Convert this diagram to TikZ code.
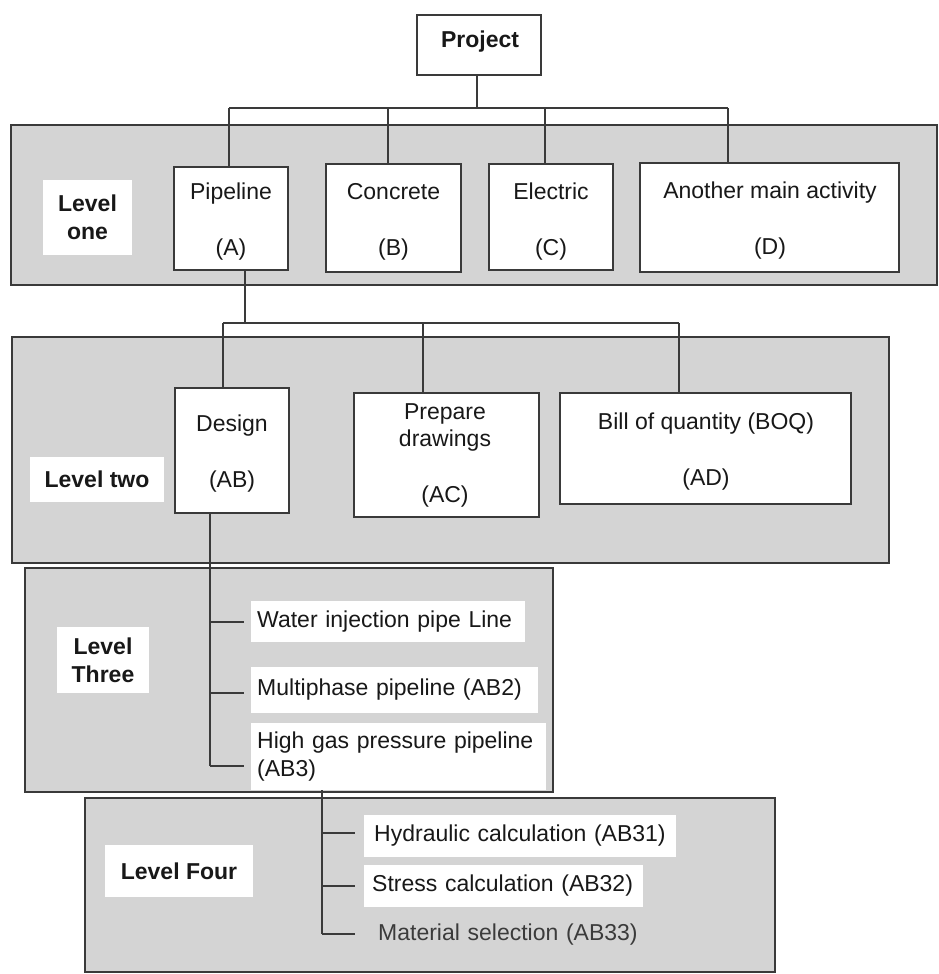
\documentclass[tikz,border=0pt]{standalone}
\usepackage{fontspec}
\setmainfont{Liberation Sans}
\definecolor{bandc}{RGB}{212,212,212}
\definecolor{linec}{RGB}{58,58,58}
\definecolor{textc}{RGB}{24,24,24}
\newcommand\diagfont{\fontsize{23}{28}\selectfont}
\begin{document}
\begin{tikzpicture}[x=1pt,y=-1pt,
  band/.style={draw=linec, line width=2pt, fill=bandc, inner sep=0pt},
  wbs/.style={draw=linec, line width=2.4pt, fill=white, inner sep=0pt},
  txt/.style={font=\diagfont, text=textc, inner sep=0pt, text height=16.5pt, text depth=0pt},
  lvl/.style={fill=white, inner sep=0pt, font=\diagfont\bfseries, text=textc, align=center},
  item/.style={fill=white, inner ysep=0pt, font=\diagfont, text=textc, align=left, anchor=west},
  conn/.style={draw=linec, line width=2pt},
  twig/.style={conn, shorten >=#1}
]
\useasboundingbox (0,0) rectangle (938,974);

% level bands
\node[band, minimum width=926, minimum height=160] (band1) at (474,205) {};
\node[band, minimum width=877, minimum height=226] (band2) at (450.5,450) {};
\node[band, minimum width=528, minimum height=224] (band3) at (289,680) {};
\node[band, minimum width=690, minimum height=174] (band4) at (430,885) {};

% level captions
\node[lvl, minimum width=89, minimum height=75] (lab1) at (87.5,217.5) {Level\\one};
\node[lvl, minimum width=134, minimum height=45] (lab2) at (97,479.5) {Level two};
\node[lvl, minimum width=92, minimum height=66] (lab3) at (103,660) {Level\\Three};
\node[lvl, minimum width=148, minimum height=52] (lab4) at (179,871) {Level Four};

% top node
\node[wbs, minimum width=124, minimum height=60] (P) at (479,45) {};
\node[txt, font=\diagfont\bfseries] (Pt) at (480,39) {Project};

% level one
\node[wbs, minimum width=114, minimum height=103] (A) at (231,218.5) {};
\node[wbs, minimum width=135, minimum height=108] (B) at (393.5,218) {};
\node[wbs, minimum width=124, minimum height=106] (C) at (551,217) {};
\node[wbs, minimum width=259, minimum height=109] (Dm) at (769.5,217.5) {};
\node[txt] (At) at (231,191) {Pipeline};
\node[txt] (Ac) at (231,247) {(A)};
\node[txt] (Bt) at (393.5,191) {Concrete};
\node[txt] (Bc) at (393.5,247) {(B)};
\node[txt] (Ct) at (551,191) {Electric};
\node[txt] (Cc) at (551,247) {(C)};
\node[txt] (Dt) at (770,190) {Another main activity};
\node[txt] (Dc) at (770,246) {(D)};

% level two
\node[wbs, minimum width=114, minimum height=125] (AB) at (232,450.5) {};
\node[wbs, minimum width=185, minimum height=124] (AC) at (446.5,455) {};
\node[wbs, minimum width=291, minimum height=111] (AD) at (705.5,448.5) {};
\node[txt] (ABt) at (232,423) {Design};
\node[txt] (ABc) at (232,479) {(AB)};
\node[txt] (ACt1) at (445,411) {Prepare};
\node[txt] (ACt2) at (445,438) {drawings};
\node[txt] (ACc) at (445,494) {(AC)};
\node[txt] (ADt) at (706,421) {Bill of quantity (BOQ)};
\node[txt] (ADc) at (706,477) {(AD)};

% level three
\node[item, text width=262, inner xsep=6, minimum height=41] (AB1) at (251,621.5) {Water injection pipe Line};
\node[item, text width=275, inner xsep=6, minimum height=46] (AB2) at (251,690) {Multiphase pipeline (AB2)};
\node[item, text width=283, inner xsep=6, minimum height=67] (AB3) at (251,756.5) {High gas pressure pipeline\\(AB3)};

% level four
\node[item, text width=292, inner xsep=10, minimum height=42] (AB31) at (364,836) {Hydraulic calculation (AB31)};
\node[item, text width=263, inner xsep=8, minimum height=42] (AB32) at (364,886) {Stress calculation (AB32)};
\node[item, fill=none, text width=260, inner xsep=14, minimum height=42, text=textc!85] (AB33) at (364,935) {Material selection (AB33)};

% project to level one
\coordinate (busP) at (477,108);
\coordinate (busL) at (229,108);
\coordinate (busR) at (728,108);
\coordinate (dB) at (388,108);
\coordinate (dC) at (545,108);
\draw[conn] (busP |- P.south) -- (busP);
\draw[conn] (busL) -- (busR);
\draw[conn] (busL) -- (busL |- A.north);
\draw[conn] (dB) -- (dB |- B.north);
\draw[conn] (dC) -- (dC |- C.north);
\draw[conn] (busR) -- (busR |- Dm.north);

% pipeline to level two
\coordinate (busA) at (245,323);
\coordinate (busA1) at (223,323);
\coordinate (busA2) at (423,323);
\coordinate (busA3) at (679,323);
\draw[conn] (busA |- A.south) -- (busA);
\draw[conn] (busA1) -- (busA3);
\draw[conn] (busA1) -- (busA1 |- AB.north);
\draw[conn] (busA2) -- (busA2 |- AC.north);
\draw[conn] (busA3) -- (busA3 |- AD.north);

% design to level three
\coordinate (v3) at (210,766);
\draw[conn] (v3 |- AB.south) -- (v3);
\draw[twig=7pt] (v3 |- AB1.west) -- (AB1.west);
\draw[twig=7pt] (210,693) -- (AB2.west |- 0,693);
\draw[twig=7pt] (v3) -- (v3 -| AB3.west);

% high gas pressure pipeline to level four
\coordinate (v4) at (322,934);
\draw[conn] (v4 |- AB3.south) -- (v4);
\draw[twig=9pt] (322,833) -- (AB31.west |- 0,833);
\draw[twig=9pt] (v4 |- AB32.west) -- (AB32.west);
\draw[twig=9pt] (v4) -- (v4 -| AB33.west);
\end{tikzpicture}
\end{document}
